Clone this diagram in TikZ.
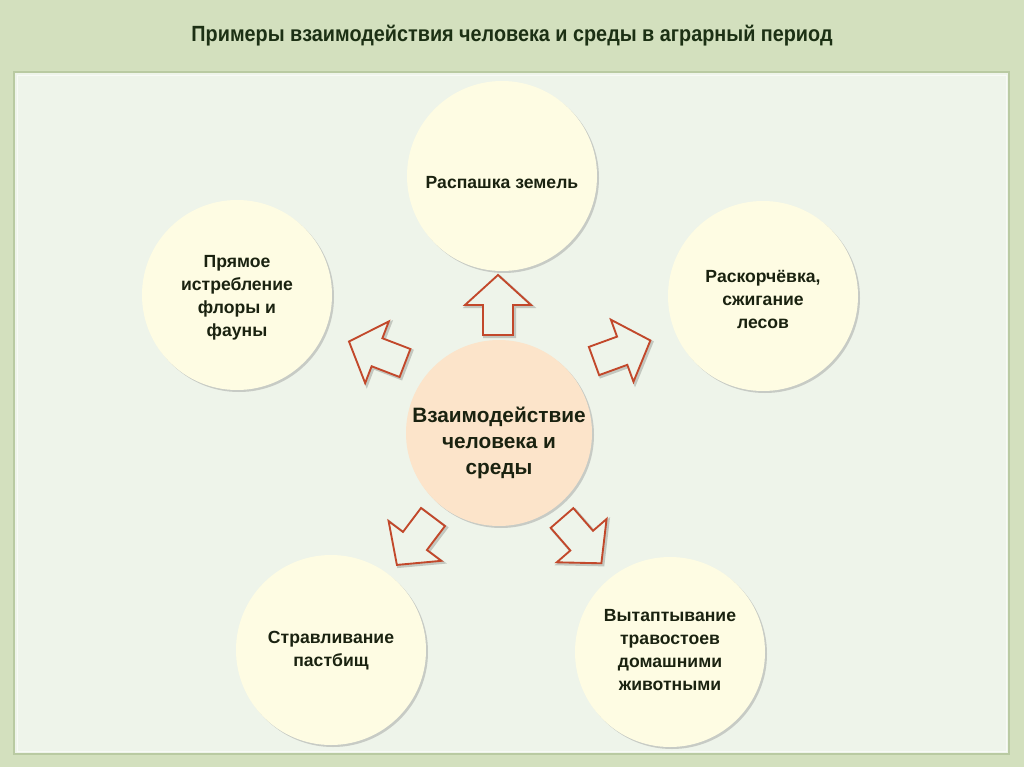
\documentclass[tikz,border=0pt]{standalone}
\usepackage{fontspec}
\setmainfont{Liberation Sans}
\usetikzlibrary{shadows}
\definecolor{bgouter}{HTML}{D3E0BE}
\definecolor{panel}{HTML}{EEF4EA}
\definecolor{panelline}{HTML}{B9CAA2}
\definecolor{cream}{HTML}{FEFCE3}
\definecolor{peach}{HTML}{FCE4CA}
\definecolor{arrowred}{HTML}{C2482B}
\definecolor{txt}{HTML}{1A2210}
\definecolor{titletxt}{HTML}{1C3014}
\newcommand{\blockarr}[2]{%
  \draw[arrowshadow, shift={(#1)}, xshift=1.2pt, yshift=-1.2pt, rotate=#2]
    (0,-15) -- (30,-15) -- (30,-33) -- (60,0) -- (30,33) -- (30,15) -- (0,15) -- cycle;
  \draw[blockarrow, shift={(#1)}, rotate=#2]
    (0,-15) -- (30,-15) -- (30,-33) -- (60,0) -- (30,33) -- (30,15) -- (0,15) -- cycle;}
\newcommand{\lowered}[2]{\raisebox{-#1}[0pt][0pt]{\begin{tabular}{@{}c@{}}#2\end{tabular}}}
\begin{document}
\begin{tikzpicture}[x=0.75pt,y=-0.75pt,
  circ/.style={circle, fill=cream, minimum size=142.5pt, inner sep=0pt, align=center,
    text=txt, font=\bfseries\fontsize{13.2}{17.25}\selectfont,
    drop shadow={shadow xshift=1.5pt, shadow yshift=-1.5pt, opacity=0.35}},
  hub/.style={circ, fill=peach, minimum size=139.5pt, font=\bfseries\fontsize{15.6}{19.5}\selectfont},
  blockarrow/.style={draw=arrowred, line width=1.4pt, fill=panel, line join=miter},
  arrowshadow/.style={draw=black, opacity=0.18, line width=2.2pt}
]
\useasboundingbox (0,0) rectangle (1024,767);
\fill[bgouter] (0,0) rectangle (1024,767);
\draw[panelline, line width=1.5pt, fill=panel] (14,72) rectangle (1009,754);
\draw[white, opacity=0.6, line width=0.6pt] (17,75) rectangle (1006,751);
\node[text=titletxt, font=\bfseries\fontsize{16.5}{19}\selectfont] (title) at (512,36)
  {\scalebox{0.9}[1]{Примеры взаимодействия человека и среды в аграрный период}};

\node[hub] (c) at (499,433) {\lowered{11.25pt}{Взаимодействие\\человека и\\среды}};
\node[circ] (top) at (502,176) {\lowered{9.25pt}{Распашка земель}};
\node[circ] (ul) at (237,295) {\lowered{5pt}{Прямое\\истребление\\флоры и\\фауны}};
\node[circ] (ur) at (763,296) {\lowered{6.5pt}{Раскорчёвка,\\сжигание\\лесов}};
\node[circ] (bl) at (331,650) {\lowered{3.5pt}{Стравливание\\пастбищ}};
\node[circ] (br) at (670,652) {\lowered{2.5pt}{Вытаптывание\\травостоев\\домашними\\животными}};

\coordinate (aT) at (498,335);
\coordinate (aL) at (405,363);
\coordinate (aR) at (594,361);
\coordinate (aBL) at (433,517);
\coordinate (aBR) at (562,518);
\blockarr{aT}{90}
\blockarr{aL}{159}
\blockarr{aR}{20}
\blockarr{aBL}{233}
\blockarr{aBR}{311}
\end{tikzpicture}
\end{document}
